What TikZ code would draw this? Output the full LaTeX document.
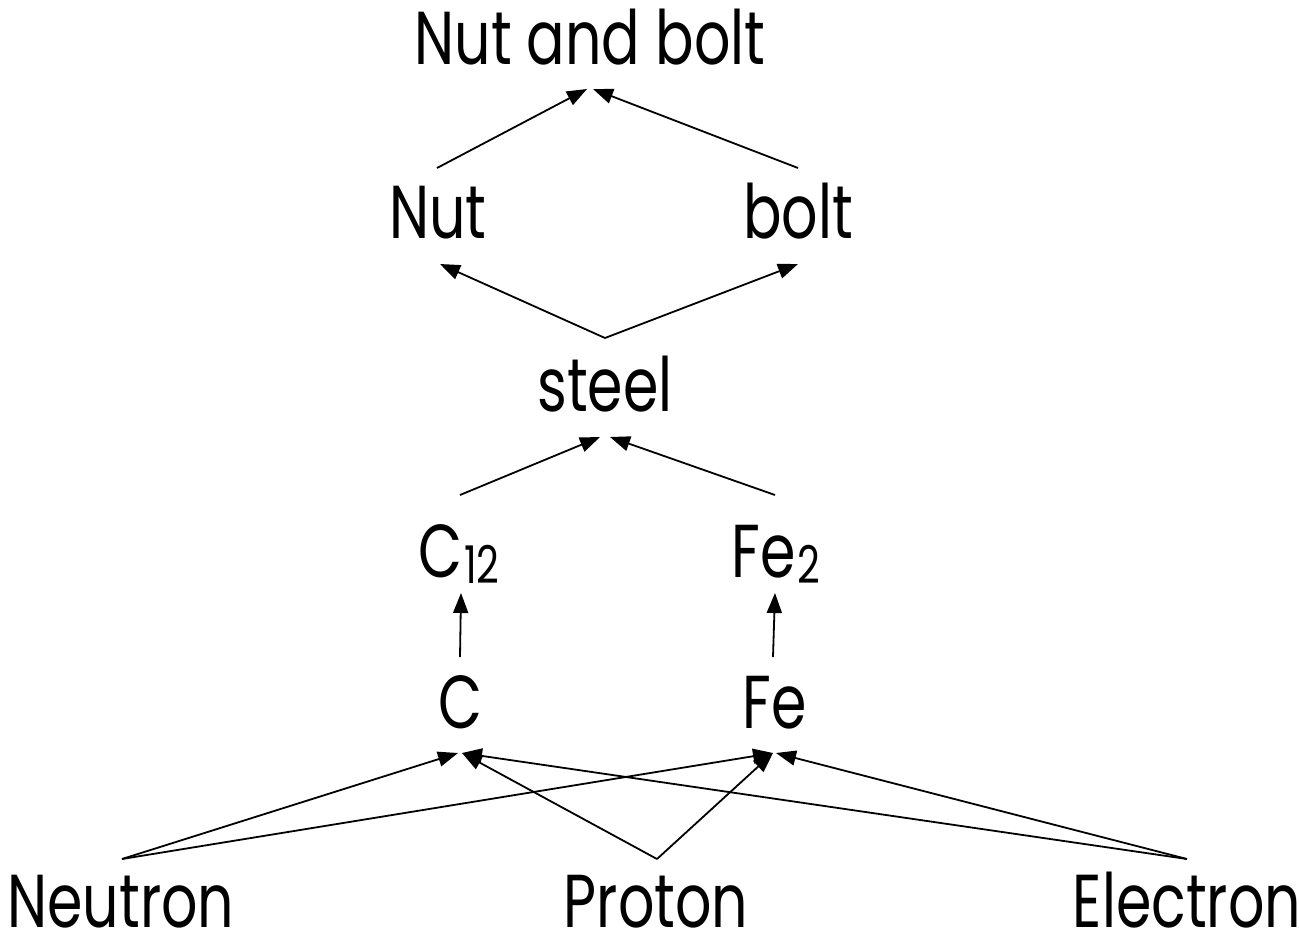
\documentclass[tikz,border=0pt]{standalone}
\usepackage{fontspec}
\setmainfont{Poppins}[FakeStretch=0.76]
\usetikzlibrary{arrows.meta}
\tikzset{
  lbl/.style={anchor=base, inner sep=0pt, font=\fontsize{75}{88}\selectfont},
  arr/.style={line width=1.8pt, -{Triangle[length=20pt,width=15pt]}},
}
\newcommand{\subtxt}[1]{\kern2pt\raisebox{-6pt}{\fontsize{52}{54}\selectfont #1}}
\begin{document}
\begin{tikzpicture}[x=1pt,y=-1pt]
\useasboundingbox (0,0) rectangle (1299,938);
\node[lbl] (nab) at (590,64) {Nut and bolt};
\node[lbl] (nut) at (438,238) {Nut};
\node[lbl] (bolt) at (798,238) {bolt};
\node[lbl] (steel) at (605,411) {steel};
\node[lbl] (c12) at (459,577) {C\subtxt{12}};
\node[lbl] (fe2) at (776,577) {Fe\subtxt{2}};
\node[lbl] (c) at (460,728) {C};
\node[lbl] (fe) at (775,728) {Fe};
\node[lbl] (neutron) at (121,927) {Neutron};
\node[lbl] (proton) at (656,927) {Proton};
\node[lbl] (electron) at (1187,927) {Electron};
% top level
\draw[arr] ([shift={(-1,-70)}]nut.base) -- ([shift={(-3,25)}]nab.base);
\draw[arr] ([shift={(0,-70)}]bolt.base) -- ([shift={(3,25)}]nab.base);
% steel to nut / bolt
\draw[arr] ([shift={(0,-73)}]steel.base) -- ([shift={(2,26)}]nut.base);
\draw[arr] ([shift={(0,-73)}]steel.base) -- ([shift={(0,26)}]bolt.base);
% C12 / Fe2 to steel
\draw[arr] ([shift={(1,-82)}]c12.base) -- ([shift={(-5,26)}]steel.base);
\draw[arr] ([shift={(-1,-82)}]fe2.base) -- ([shift={(5,26)}]steel.base);
% C to C12, Fe to Fe2
\draw[arr] ([shift={(0,-71)}]c.base) -- ([shift={(2,16)}]c12.base);
\draw[arr] ([shift={(-2,-71)}]fe.base) -- ([shift={(-1,16)}]fe2.base);
% particles
\draw[arr] ([shift={(1,-68)}]neutron.base) -- ([shift={(-2,25)}]c.base);
\draw[arr] ([shift={(1,-68)}]neutron.base) -- ([shift={(-2,25)}]fe.base);
\draw[arr] ([shift={(1,-68)}]proton.base) -- ([shift={(2,25)}]c.base);
\draw[arr] ([shift={(1,-68)}]proton.base) -- ([shift={(-2,25)}]fe.base);
\draw[arr] ([shift={(0,-68)}]electron.base) -- ([shift={(2,25)}]c.base);
\draw[arr] ([shift={(0,-68)}]electron.base) -- ([shift={(1,25)}]fe.base);
\end{tikzpicture}
\end{document}
